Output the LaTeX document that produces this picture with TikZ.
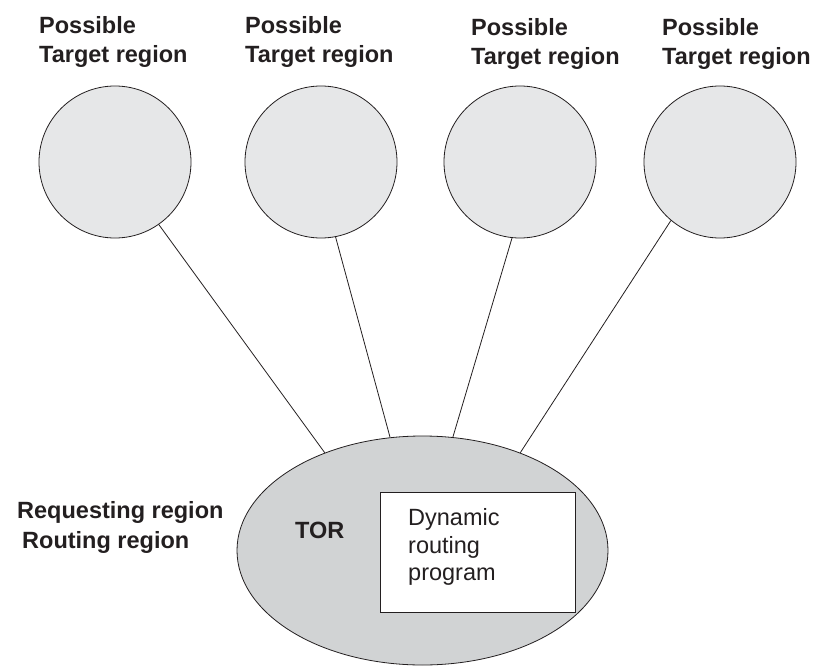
\documentclass[tikz,border=0pt]{standalone}
\usepackage{fontspec}
\setmainfont{Liberation Sans}
\usetikzlibrary{shapes.geometric}
\definecolor{circfill}{HTML}{E6E7E8}
\definecolor{ellfill}{HTML}{D1D3D4}
\definecolor{ink}{HTML}{231F20}
\newcommand{\twolines}[2]{\vtop{\baselineskip=29pt\hbox{#1}\hbox{#2}}}
\newcommand{\threelines}[3]{\vtop{\baselineskip=27.5pt\hbox{#1}\hbox{#2}\hbox{#3}}}
\tikzset{
  target/.style={circle, draw=ink, fill=circfill, line width=0.8pt, minimum size=152pt, inner sep=0pt},
  torshape/.style={ellipse, draw=ink, fill=ellfill, line width=0.8pt, minimum width=371pt, minimum height=229pt, inner sep=0pt},
  progbox/.style={rectangle, draw=ink, fill=white, line width=0.8pt, minimum width=195pt, minimum height=120pt, inner sep=0pt},
  conn/.style={draw=ink, line width=0.8pt},
  boldlab/.style={font=\fontsize{23.5}{28}\selectfont\bfseries, text=ink, inner sep=0pt, anchor=base west},
  plainlab/.style={font=\fontsize{23.5}{28}\selectfont, text=ink, inner sep=0pt, anchor=base west}
}
\begin{document}
\begin{tikzpicture}[x=1pt,y=-1pt]
\useasboundingbox (0,0) rectangle (816,666);
% target circles
\node[target] (c1) at (115,162) {};
\node[target] (c2) at (321,162) {};
\node[target] (c3) at (520,162) {};
\node[target] (c4) at (720,162) {};
% requesting region ellipse and program box
\node[torshape] (tor) at (422.5,550.5) {};
\node[progbox] (prog) at (478,552) {};
% connectors
\draw[conn] (c1.-55.3) -- (tor.135.6);
\draw[conn] (c2.-79.4) -- (tor.106.6);
\draw[conn] (c3.-96.8) -- (tor.75.4);
\draw[conn] (c4.-130) -- (tor.45.9);
% labels
\node[boldlab] (l1) at (39,34) {\twolines{Possible}{Target region}};
\node[boldlab] (l2) at (245,34) {\twolines{Possible}{Target region}};
\node[boldlab] (l3) at (471,36) {\twolines{Possible}{Target region}};
\node[boldlab] (l4) at (662,36) {\twolines{Possible}{Target region}};
\node[boldlab] (req) at (17,518) {Requesting region};
\node[boldlab] (rout) at (22,548) {Routing region};
\node[boldlab] (torlab) at (295,538) {TOR};
\node[plainlab] (progtext) at (408,525.5) {\threelines{Dynamic}{routing}{program}};
\end{tikzpicture}
\end{document}
